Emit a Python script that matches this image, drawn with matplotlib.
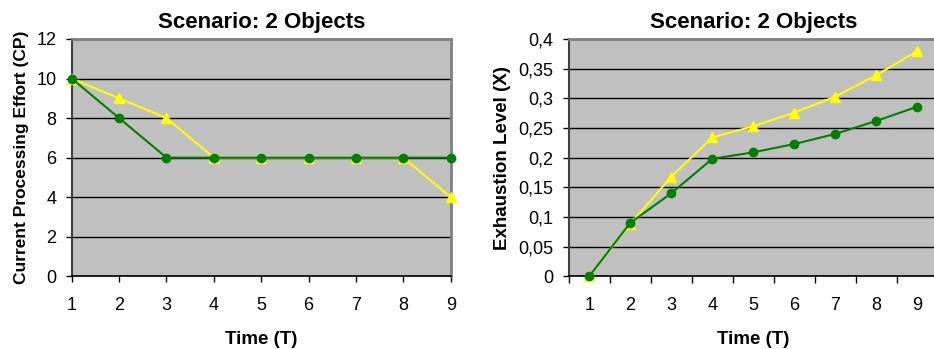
import matplotlib.pyplot as plt
from matplotlib.ticker import FuncFormatter, FixedLocator

plt.rcParams['font.family'] = ['Liberation Sans', 'DejaVu Sans']

# time steps
time = [1, 2, 3, 4, 5, 6, 7, 8, 9]

# current processing effort (CP)
cp_green = [10, 8, 6, 6, 6, 6, 6, 6, 6]
cp_yellow = [10, 9, 8, 6, 6, 6, 6, 6, 4]

# exhaustion level (X)
x_green = [0, 0.090, 0.140, 0.198, 0.209, 0.223, 0.240, 0.262, 0.286]
x_yellow = [0, 0.088, 0.168, 0.234, 0.253, 0.276, 0.303, 0.339, 0.380]

title = 'Scenario: 2 Objects'

fig = plt.figure(figsize=(9.34, 3.49), dpi=100)
ax1 = fig.add_axes([0.0768, 0.2083, 0.4058, 0.680])
ax2 = fig.add_axes([0.6089, 0.2083, 0.3954, 0.680])


def style(ax):
    ax.set_facecolor('#c0c0c0')
    ax.set_axisbelow(True)
    ax.yaxis.grid(True, color='black', linewidth=1.0)
    for side in ('top', 'right'):
        ax.spines[side].set_color('#808080')
        ax.spines[side].set_linewidth(2)
    ax.spines['left'].set_color('#404040')
    ax.spines['left'].set_linewidth(1.5)
    ax.spines['bottom'].set_color('black')
    ax.spines['bottom'].set_linewidth(1.2)
    ax.tick_params(axis='y', direction='out', length=4, width=1, pad=7,
                   labelsize=13)
    ax.tick_params(axis='x', direction='out', length=4, width=1, pad=11,
                   labelsize=13)
    ax.set_title(title, fontsize=16, fontweight='bold', pad=8)
    ax.set_xlabel('Time (T)', fontsize=13.5, fontweight='bold', labelpad=12)


# left: processing effort
ax1.plot(time, cp_yellow, color='#ffff00', marker='^', markersize=7,
         linewidth=1.5, clip_on=False, zorder=3)
ax1.plot(time, cp_green, color='#008000', marker='o', markersize=6,
         linewidth=1.5, clip_on=False, zorder=4)
ax1.set_xlim(1, 9)
ax1.set_ylim(0, 12)
ax1.set_xticks(time)
ax1.set_yticks(range(0, 13, 2))
style(ax1)
ax1.set_ylabel('Current Processing Effort (CP)', fontsize=12.5,
               fontweight='bold', labelpad=5)

# right: exhaustion level
ax2.plot(time, x_yellow, color='#ffff00', marker='^', markersize=7,
         linewidth=1.5, clip_on=False, zorder=3)
ax2.plot(time, x_green, color='#008000', marker='o', markersize=6,
         linewidth=1.5, clip_on=False, zorder=4)
ax2.set_xlim(0.5, 9.5)
ax2.set_ylim(0, 0.4)
ax2.set_xticks(time)
ax2.xaxis.set_minor_locator(FixedLocator([t + 0.5 for t in [0] + time]))
ax2.set_yticks([i * 0.05 for i in range(9)])
ax2.yaxis.set_major_formatter(
    FuncFormatter(lambda v, p: ('%g' % round(v, 2)).replace('.', ',')))
style(ax2)
ax2.tick_params(axis='x', which='major', length=0, pad=15)
ax2.tick_params(axis='x', which='minor', direction='out', length=5, width=1)
ax2.set_ylabel('Exhaustion Level (X)', fontsize=13.5, fontweight='bold',
               labelpad=5)

fig.savefig('out.png', dpi=100)
